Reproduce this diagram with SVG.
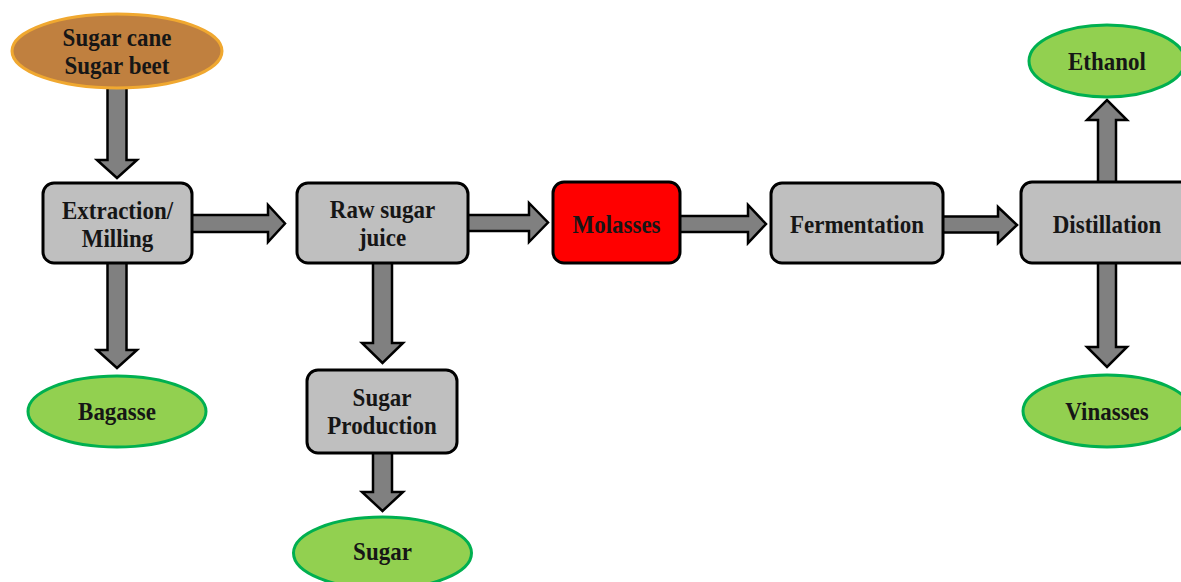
<svg xmlns="http://www.w3.org/2000/svg" width="1181" height="582" viewBox="0 0 1181 582">
<style>
.arr{fill:#808080;stroke:#000;stroke-width:2.5;stroke-linejoin:miter}
.box{fill:#BFBFBF;stroke:#000;stroke-width:3}
.red{fill:#FF0000;stroke:#000;stroke-width:3}
.prod{fill:#92D050;stroke:#00B050;stroke-width:3}
.src{fill:#C0803F;stroke:#F0A830;stroke-width:3}
text{font-family:"Liberation Serif","Times New Roman",serif;font-weight:bold;font-size:23px;fill:#161616;text-anchor:middle}
</style>
<rect width="1181" height="582" fill="#fff"/>
<g id="connectors">
<polygon class="arr" points="107.5,86 126.5,86 126.5,160 137,160 117,178 97,160 107.5,160"/>
<polygon class="arr" points="190,215 268,215 268,205 285,223.5 268,242 268,232 190,232"/>
<polygon class="arr" points="466,215 529,215 529,203 548,222.5 529,242 529,231 466,231"/>
<polygon class="arr" points="678,216 748,216 748,205 766,224 748,243 748,232 678,232"/>
<polygon class="arr" points="941,216.5 998,216.5 998,207 1017,225 998,243 998,232.5 941,232.5"/>
<polygon class="arr" points="1098,184 1098,120 1087,120 1107,100 1127,120 1116,120 1116,184"/>
<polygon class="arr" points="1098,261 1116,261 1116,347 1127,347 1107,367 1087,347 1098,347"/>
<polygon class="arr" points="107.5,261 126.5,261 126.5,350 137,350 117,368 97,350 107.5,350"/>
<polygon class="arr" points="373,261 392,261 392,343 403,343 382.5,363 362,343 373,343"/>
<polygon class="arr" points="373,451 392,451 392,492 403,492 382.5,511 362,492 373,492"/>
</g>
<g id="n-source">
<ellipse class="src" cx="117" cy="51" rx="105" ry="37"/>
<text transform="translate(117,46) scale(1,1.12)">Sugar cane</text>
<text transform="translate(117,74) scale(1,1.12)">Sugar beet</text>
</g>
<g id="n-extraction">
<rect class="box" x="43" y="183" width="149" height="80" rx="11"/>
<text transform="translate(117.5,219) scale(1,1.12)">Extraction/</text>
<text transform="translate(117.5,247) scale(1,1.12)">Milling</text>
</g>
<g id="n-raw">
<rect class="box" x="297" y="183" width="171" height="80" rx="11"/>
<text transform="translate(382.5,218) scale(1,1.12)">Raw sugar</text>
<text transform="translate(382.5,246) scale(1,1.12)">juice</text>
</g>
<g id="n-molasses">
<rect class="red" x="553" y="182" width="127" height="81" rx="11"/>
<text transform="translate(616.5,233) scale(1,1.12)">Molasses</text>
</g>
<g id="n-fermentation">
<rect class="box" x="771" y="183" width="172" height="80" rx="11"/>
<text transform="translate(857,233) scale(1,1.12)">Fermentation</text>
</g>
<g id="n-distillation">
<rect class="box" x="1021" y="182" width="174" height="81" rx="11"/>
<text transform="translate(1107,233) scale(1,1.12)">Distillation</text>
</g>
<g id="n-ethanol">
<ellipse class="prod" cx="1107" cy="61" rx="78" ry="36"/>
<text transform="translate(1107,70) scale(1,1.12)">Ethanol</text>
</g>
<g id="n-vinasses">
<ellipse class="prod" cx="1107" cy="411" rx="84" ry="36"/>
<text transform="translate(1107,420) scale(1,1.12)">Vinasses</text>
</g>
<g id="n-bagasse">
<ellipse class="prod" cx="117" cy="411.5" rx="89" ry="35.5"/>
<text transform="translate(117,420) scale(1,1.12)">Bagasse</text>
</g>
<g id="n-sugarprod">
<rect class="box" x="307" y="370" width="150" height="83" rx="11"/>
<text transform="translate(382,406) scale(1,1.12)">Sugar</text>
<text transform="translate(382,434) scale(1,1.12)">Production</text>
</g>
<g id="n-sugar">
<ellipse class="prod" cx="382.5" cy="553" rx="89" ry="36"/>
<text transform="translate(382.5,560) scale(1,1.12)">Sugar</text>
</g>
</svg>
